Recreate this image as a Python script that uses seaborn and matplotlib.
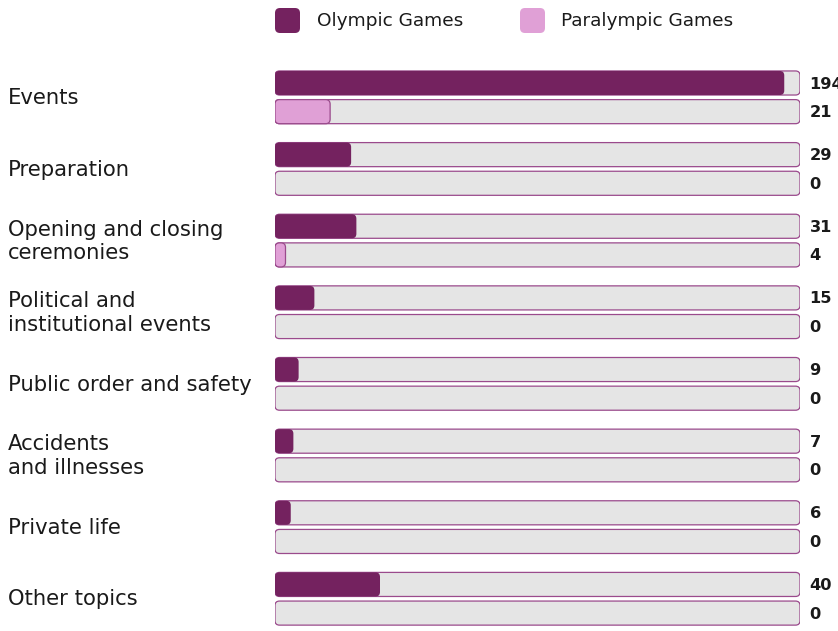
import matplotlib
matplotlib.use("Agg")
import matplotlib.pyplot as plt
from matplotlib.patches import FancyBboxPatch
import seaborn as sns
import pandas as pd

categories = ["Events", "Preparation", "Opening and closing\nceremonies",
              "Political and\ninstitutional events", "Public order and safety",
              "Accidents\nand illnesses", "Private life", "Other topics"]
olympic = [194, 29, 31, 15, 9, 7, 6, 40]
paralympic = [21, 0, 4, 0, 0, 0, 0, 0]
series_names = ["Olympic Games", "Paralympic Games"]
axis_max = 200

C_OLY = "#74225f"
C_PARA = "#e0a0d6"
C_BG = "#e5e5e5"
C_EDGE = "#9a4a8c"
C_TXT = "#1a1a1a"
FONT = "DejaVu Sans"

df = pd.DataFrame({
    "category": categories * 2,
    "value": olympic + paralympic,
    "series": [series_names[0]] * len(categories) + [series_names[1]] * len(categories),
})
df_bg = df.copy()
df_bg["value"] = axis_max

sns.set_theme(style="white")
plt.rcParams["font.family"] = [FONT]

W, H = 838, 631
fig = plt.figure(figsize=(W / 100, H / 100), dpi=100)
left_px, right_px, top_px, bot_px = 275, 800, 61.5, 631
ax = fig.add_axes([left_px / W, 1 - bot_px / H, (right_px - left_px) / W, (bot_px - top_px) / H])

sns.barplot(data=df_bg, y="category", x="value", hue="series", orient="h",
            palette=[C_BG, C_BG], width=0.8, gap=0.16, dodge=True, legend=False,
            saturation=1, ax=ax)
n_bg = len(ax.patches)
sns.barplot(data=df, y="category", x="value", hue="series", orient="h",
            palette=[C_OLY, C_PARA], width=0.8, gap=0.16, dodge=True, legend=False,
            saturation=1, ax=ax)

ax.set_xlim(0, axis_max)
ax.set_ylim(len(categories) - 0.55, -0.5)

x_per_px = axis_max / (right_px - left_px)
y_per_px = (len(categories) - 0.05) / (bot_px - top_px)
aspect = y_per_px / x_per_px
rad = 4.5 * x_per_px

patches = list(ax.patches)
for i, p in enumerate(patches):
    x0, y0 = p.get_x(), p.get_y()
    w, h = p.get_width(), p.get_height()
    p.set_visible(False)
    if i < n_bg:
        fc, ec, lw, z = C_BG, C_EDGE, 0.9, 1
    else:
        if w <= 0:
            continue
        fc = p.get_facecolor()
        light = fc[0] > 0.7
        ec = C_EDGE if light else fc
        lw = 0.9 if light else 0
        z = 2
        w = max(w, 2 * rad + 1.5 * x_per_px)
    ax.add_patch(FancyBboxPatch((x0, y0), w, h,
                                boxstyle=f"round,pad=0,rounding_size={rad}",
                                mutation_aspect=aspect, facecolor=fc, edgecolor=ec,
                                linewidth=lw, zorder=z))

renderer = fig.canvas.get_renderer()

def fit_size(text, target_px, weight="normal", base=12):
    t = fig.text(0, 0, text, fontsize=base, fontweight=weight)
    wpx = t.get_window_extent(renderer).width
    t.remove()
    return base * target_px / wpx

cat_size = fit_size("Public order and safety", 244)
leg_size = fit_size("Olympic Games", 146)
val_size = fit_size("40", 22.5, weight="bold")

for i in range(len(categories)):
    for j, vals in enumerate([olympic, paralympic]):
        yc = i + (-0.2 if j == 0 else 0.2)
        ax.text(axis_max + 9.5 * x_per_px, yc + 0.015, f"{vals[i]}", ha="left", va="center",
                fontsize=val_size, fontweight="bold", color=C_TXT, clip_on=False)

for i, c in enumerate(categories):
    ax.text(-267 * x_per_px, i + 0.01, c, ha="left", va="center", fontsize=cat_size,
            color=C_TXT, linespacing=1.22, clip_on=False)

ax.set_yticks([])
ax.set_xticks([])
ax.set_xlabel("")
ax.set_ylabel("")
for s in ax.spines.values():
    s.set_visible(False)

fig_ax = fig.add_axes([0, 0, 1, 1], facecolor="none")
fig_ax.set_xlim(0, W)
fig_ax.set_ylim(H, 0)
fig_ax.axis("off")
for (lx, tx, name, col) in [(275, 317, series_names[0], C_OLY), (520, 561, series_names[1], C_PARA)]:
    fig_ax.add_patch(FancyBboxPatch((lx, 8), 25, 25, boxstyle="round,pad=0,rounding_size=5",
                                    facecolor=col, edgecolor="none"))
    fig_ax.text(tx, 21.5, name, ha="left", va="center", fontsize=leg_size, color=C_TXT)

fig.savefig("out.png", dpi=100)
